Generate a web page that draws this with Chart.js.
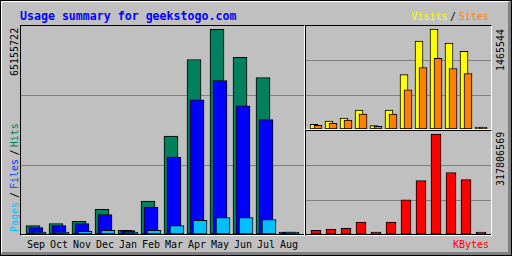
<!DOCTYPE html>
<html>
<head>
<meta charset="utf-8">
<script src="https://cdn.jsdelivr.net/npm/chart.js@4.4.0/dist/chart.umd.min.js"></script>
<style>
  html, body { margin: 0; padding: 0; background: #c0c0c0; width: 512px; height: 256px; overflow: hidden; }
  #frame { position: absolute; left: 0; top: 0; width: 512px; height: 256px; box-sizing: border-box; border: 1px solid #000; }
  #bevel { position: absolute; left: 0; top: 0; right: 0; bottom: 0; border-top: 1px solid #fff; border-left: 1px solid #fff; border-right: 3px solid #808080; border-bottom: 3px solid #808080; }
  .panel { position: absolute; border-top: 1px solid #000; border-left: 1px solid #000; border-right: 1px solid #fff; border-bottom: 1px solid #fff; }
  .panel canvas { display: block; }
  .axisline { height: 1px; background: #000; }
  .txt { position: absolute; white-space: nowrap; font: 10px "DejaVu Sans Mono", monospace; line-height: 12px; color: #000; }
  .txt span { position: absolute; top: 0; }
  .rot { transform-origin: 0 0; transform: rotate(-90deg); }
  #title { left: 20px; top: 8.5px; font: bold 11.6px "DejaVu Sans Mono", monospace; line-height: 14px; color: #0000ff; }
</style>
</head>
<body>
<div id="frame"><div id="bevel"></div></div>

<div class="txt" id="title">Usage summary for geekstogo.com</div>

<div class="panel" style="left:20px;top:25px;width:283px;height:209px">
  <canvas id="main" width="283" height="208"></canvas>
  <div class="axisline"></div>
</div>
<div class="panel" style="left:305px;top:25px;width:185px;height:103px">
  <canvas id="visitsChart" width="185" height="103"></canvas>
</div>
<div class="panel" style="left:305px;top:130px;width:185px;height:104px">
  <canvas id="kbytesChart" width="185" height="103"></canvas>
  <div class="axisline"></div>
</div>

<div class="txt rot" id="leftMax" style="left:8.8px;top:75.6px;width:60px;height:12px"></div>
<div class="txt rot" style="left:8.8px;top:232.3px;width:110px;height:12px">
  <span style="left:0;color:#00c0ff">Pages</span>
  <span style="left:34px">/</span>
  <span style="left:43px;color:#0040ff">Files</span>
  <span style="left:76.5px">/</span>
  <span style="left:84.7px;color:#00805c">Hits</span>
</div>
<div class="txt" style="left:0;top:10.5px;width:512px;height:12px">
  <span style="left:411.5px;color:#ffff00">Visits</span>
  <span style="left:450px">/</span>
  <span style="left:458.7px;color:#ff8000">Sites</span>
</div>
<div class="txt rot" id="visitsMax" style="left:494.5px;top:70.6px;width:60px;height:12px"></div>
<div class="txt rot" id="kbytesMax" style="left:494.5px;top:185.6px;width:60px;height:12px"></div>
<div class="txt" style="left:453px;top:238.5px;color:#ff0000">KBytes</div>
<div id="months"></div>

<script>
const months = ['Sep', 'Oct', 'Nov', 'Dec', 'Jan', 'Feb', 'Mar', 'Apr', 'May', 'Jun', 'Jul', 'Aug'];
const hits   = [2690000, 3330000, 4070000, 7820000, 1190000, 10470000, 31200000, 55550000, 65155722, 56190000, 49780000, 0];
const files  = [2050000, 2690000, 3330000, 6210000, 1090000, 8460000, 24470000, 42730000, 48820000, 40810000, 36420000, 0];
const pages  = [320000, 320000, 860000, 1190000, 160000, 1190000, 2690000, 4390000, 5250000, 5250000, 4610000, 0];
const visits = [69800, 114300, 158900, 277700, 50500, 277700, 797400, 1287400, 1465544, 1257700, 1138900, 0];
const sites  = [54900, 84600, 129200, 218300, 40100, 218300, 574600, 901300, 1034900, 886500, 812200, 0];
const kbytes = [11900000, 15100000, 18400000, 37700000, 1000000, 37700000, 108500000, 169700000, 317806569, 195400000, 172900000, 0];

// grey lines at one and two thirds of the plot height
const thirds = {
  id: 'thirds',
  beforeDatasetsDraw(chart) {
    const { ctx, chartArea, scales } = chart;
    const y = scales.y;
    ctx.save();
    ctx.strokeStyle = '#808080';
    ctx.lineWidth = 1;
    [1, 2].forEach(k => {
      const py = Math.round(y.getPixelForValue(y.max * k / 3)) + 0.5;
      ctx.beginPath();
      ctx.moveTo(chartArea.left, py);
      ctx.lineTo(chartArea.right, py);
      ctx.stroke();
    });
    ctx.restore();
  }
};

// overlapping bars: every series gets its own hidden x axis, shifted by a few pixels
function overlay(id, series, yMax, firstCenter, pitch) {
  const canvas = document.getElementById(id);
  const w = canvas.width;
  const scales = { y: { display: false, min: 0, max: yMax, bounds: 'data' } };
  const datasets = series.map((s, k) => {
    const axisId = 'x' + k;
    const lo = -(firstCenter + s.shift) / pitch;
    scales[axisId] = {
      type: 'linear', display: false, offset: false, bounds: 'data',
      min: lo, max: lo + w / pitch,
      ticks: { stepSize: 1, includeBounds: false }
    };
    return {
      data: s.values.map((v, i) => ({ x: i, y: v })),
      xAxisID: axisId,
      grouped: false,
      categoryPercentage: 1,
      barPercentage: 1,
      maxBarThickness: s.width,
      backgroundColor: s.color,
      borderColor: '#000',
      borderWidth: 1,
      borderSkipped: false,
      minBarLength: 2,
      order: series.length - k
    };
  });
  return new Chart(canvas, {
    type: 'bar',
    data: { datasets },
    options: {
      responsive: false,
      animation: false,
      events: [],
      layout: { padding: 0 },
      plugins: { legend: { display: false }, tooltip: { enabled: false } },
      scales
    },
    plugins: [thirds]
  });
}

const pitchMain = 23;
overlay('main', [
  { values: hits,  color: '#00805c', shift: 0, width: 14 },
  { values: files, color: '#0000ff', shift: 3, width: 14 },
  { values: pages, color: '#00c0ff', shift: 6, width: 14 }
], 66200000, 12, pitchMain);

overlay('visitsChart', [
  { values: visits, color: '#ffff00', shift: 0, width: 8 },
  { values: sites,  color: '#ff8000', shift: 4, width: 8 }
], 1509500, 8, 15);

overlay('kbytesChart', [
  { values: kbytes, color: '#ff0000', shift: 0, width: 10 }
], 327340000, 10, 15);

document.getElementById('leftMax').textContent = String(Math.max(...hits));
document.getElementById('visitsMax').textContent = String(Math.max(...visits));
document.getElementById('kbytesMax').textContent = String(Math.max(...kbytes));

const monthBox = document.getElementById('months');
months.forEach((m, i) => {
  const d = document.createElement('div');
  d.className = 'txt';
  d.style.left = (27 + pitchMain * i) + 'px';
  d.style.top = '238.5px';
  d.textContent = m;
  monthBox.appendChild(d);
});
</script>
</body>
</html>
